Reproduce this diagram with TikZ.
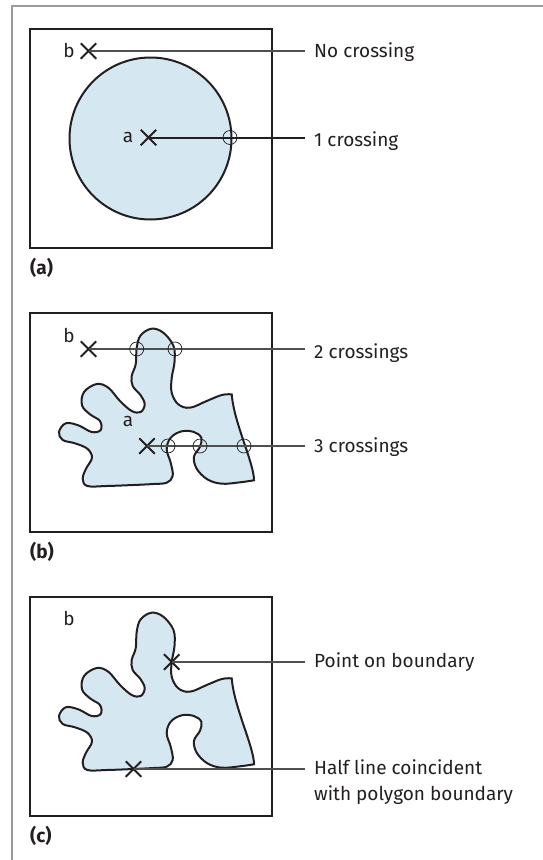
\documentclass[tikz,border=0pt]{standalone}
\usepackage{fontspec}
\setmainfont{Fira Sans}
\usetikzlibrary{shapes.misc}
\definecolor{ptInk}{HTML}{231F20}
\definecolor{ptFill}{HTML}{D5E7F1}
\definecolor{ptLead}{HTML}{505050}
\definecolor{ptFrame}{HTML}{9A9A9A}

\begin{document}
\begin{tikzpicture}[
  x=1pt,y=-1pt,
  framerule/.style={draw=ptFrame,line width=1.5pt},
  panelbox/.style={draw=ptInk,line width=2pt},
  region/.style={draw=ptInk,line width=2pt,fill=ptFill},
  xmark/.style={cross out,draw=ptInk,line width=2pt,minimum size=13.5pt,inner sep=0pt},
  ring/.style={circle,draw=ptInk,line width=0.7pt,minimum size=14pt,inner sep=0pt},
  leader/.style={draw=ptLead,line width=1.1pt},
  heavyleader/.style={draw=ptInk,line width=2pt},
  ptlabel/.style={inner sep=0pt,text=ptInk,font=\fontsize{19}{23}\selectfont},
  caption/.style={anchor=base west,inner xsep=9pt,inner ysep=0pt,align=left,
    text=ptInk,font=\fontsize{19}{25.7}\selectfont},
  panelname/.style={anchor=base west,inner sep=0pt,text=ptInk,
    font=\bfseries\fontsize{19}{23}\selectfont},
  blob/.pic={
    \path[region] plot[smooth,tension=0.6] coordinates {
      (224,167.3) (210,169.3) (191.7,170.7) (177.3,166.3) (166.7,155.7)
      (164,143.7) (170,133.7) (171.3,124.7) (164,119) (151.7,118.3)
      (140.7,124.7) (136.7,136.3) (140.7,149.7) (142.7,163) (136.7,169.7)
      (123.3,171) (103.3,172) (76.7,173) (57.3,173) (52.7,165.7)
      (56,155.7) (62,144.7) (57.3,135.7) (45,130.3) (32.7,127)
      (29,119) (35.7,110.3) (48.3,112.3) (61.7,119) (70.7,117)
      (70,108) (60,101.3) (52,92.3) (54,79) (66.7,71)
      (78.3,74.7) (90,88) (101.7,98) (110.7,99) (114.7,91.3)
      (110.7,82.3) (102.7,73) (101.7,63) (105.7,51.3) (106.7,34.7)
      (110.7,22.3) (121.7,15.7) (133.3,19.7) (143.5,33) (144.5,49)
      (141.7,65) (141.7,79.7) (148.3,91.3) (160,94.7) (176.7,88)
      (191.7,82) (201.7,81.3)}
      .. controls (204,110) and (224,150) .. (224,167.3) -- cycle;
  }
]
  \useasboundingbox (0,0) rectangle (543,860);
  \draw[framerule] (12,860) -- (12,6) -- (543,6);

  % (a) circle
  \draw[panelbox] (30,29) rectangle (272,248);
  \node[region,circle,minimum size=162pt,inner sep=0pt] (disc) at (150.5,138.5) {};
  \node[ptlabel] (labbA) at (69,50.5) {b};
  \node[xmark] (markbA) at (88.5,51) {};
  \node[ptlabel] (labaA) at (128,137) {a};
  \node[xmark] (markaA) at (148.5,137.5) {};
  \node[caption] (nocross) at (305,57.5) {No crossing};
  \node[caption] (onecross) at (305,146.5) {1 crossing};
  \draw[leader] (markbA.center) -- (markbA -| nocross.west);
  \draw[heavyleader] (markaA.center) -- (markaA -| onecross.west);
  \node[ring] (ringA) at (230,137.5) {};
  \node[panelname] (capA) at (30,274) {(a)};

  % (b) ray crossings
  \draw[panelbox] (30,313) rectangle (272,532);
  \pic at (30,313) {blob};
  \node[ptlabel] (labbB) at (69,335) {b};
  \node[xmark] (markbB) at (88.5,349) {};
  \node[ptlabel] (labaB) at (128,421.3) {a};
  \node[xmark] (markaB) at (147,446) {};
  \node[caption] (twocross) at (305,358.3) {2 crossings};
  \node[caption] (threecross) at (305,452.3) {3 crossings};
  \draw[leader] (markbB.center) -- (markbB -| twocross.west);
  \draw[leader] (markaB.center) -- (markaB -| threecross.west);
  \foreach \rx/\ry [count=\i] in {136.7/349,175/349,168/446,200/446,244/446}
    \node[ring] (ringB\i) at (\rx,\ry) {};
  \node[panelname] (capB) at (30,558) {(b)};

  % (c) special cases
  \draw[panelbox] (30,597) rectangle (272,816);
  \pic at (30,597) {blob};
  \node[ptlabel] (labbC) at (69,618.5) {b};
  \node[xmark] (markedge) at (171.7,662) {};
  \node[xmark] (markbase) at (133.5,769) {};
  \node[caption] (onedge) at (305,667.3) {Point on boundary};
  \node[caption] (halfline) at (305,800) {Half line coincident\\with polygon boundary};
  \draw[leader] (markedge.center) -- (markedge -| onedge.west);
  \draw[leader] (markbase.center) -- (markbase -| halfline.west);
  \node[panelname] (capC) at (30,842) {(c)};
\end{tikzpicture}
\end{document}
